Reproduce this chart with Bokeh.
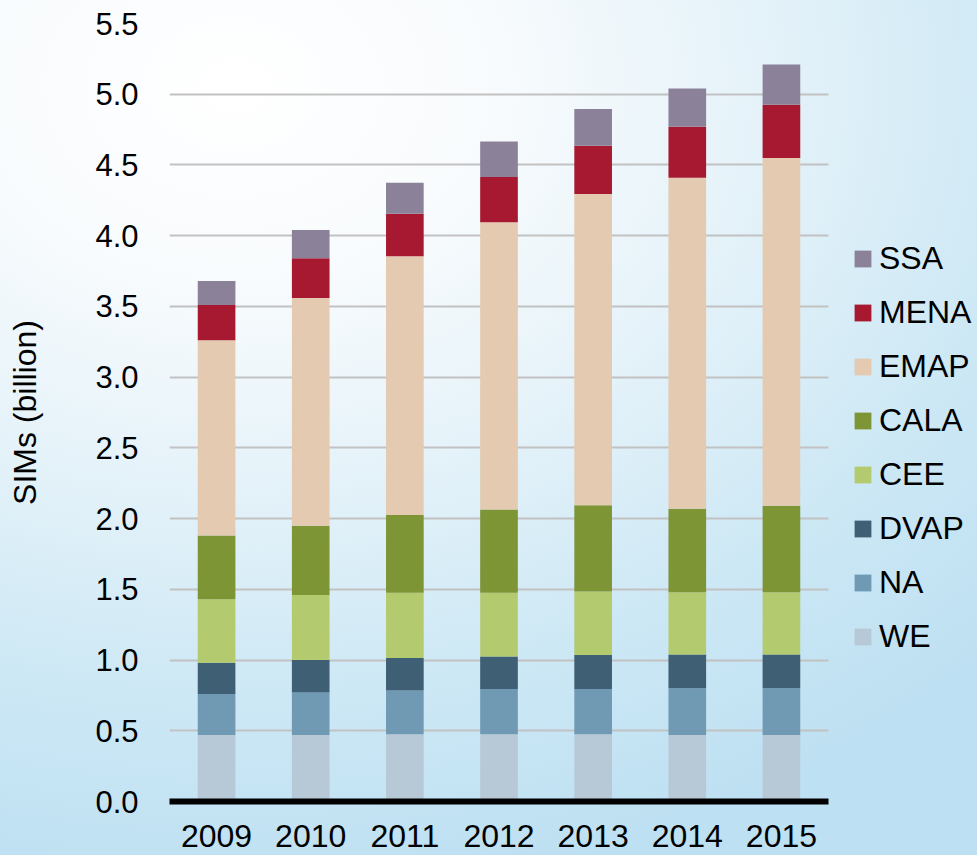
from bokeh.plotting import figure
from bokeh.models import (Range1d, FixedTicker, PrintfTickFormatter, Legend, Grid,
                          LegendItem, ColumnDataSource, GlobalInlineStyleSheet)
from bokeh.embed import file_html
from bokeh.resources import INLINE

# ---- data (billion SIMs) ----
years = ["2009", "2010", "2011", "2012", "2013", "2014", "2015"]
WE = [0.47, 0.47, 0.475, 0.475, 0.475, 0.47, 0.47]
NA = [0.29, 0.30, 0.31, 0.32, 0.32, 0.33, 0.33]
DVAP = [0.22, 0.23, 0.23, 0.23, 0.24, 0.24, 0.24]
CEE = [0.45, 0.46, 0.46, 0.45, 0.45, 0.44, 0.44]
CALA = [0.45, 0.49, 0.55, 0.59, 0.61, 0.59, 0.61]
EMAP = [1.38, 1.61, 1.83, 2.03, 2.20, 2.34, 2.46]
MENA = [0.25, 0.28, 0.30, 0.32, 0.34, 0.36, 0.375]
SSA = [0.17, 0.20, 0.22, 0.25, 0.26, 0.27, 0.285]

regions = ["WE", "NA", "DVAP", "CEE", "CALA", "EMAP", "MENA", "SSA"]
colors = ["#B7C9D6", "#7099B3", "#3E5F74", "#B3CA6E", "#7D9535", "#E3CAB1", "#A71930", "#8B8198"]
y_ticks = [0.0, 0.5, 1.0, 1.5, 2.0, 2.5, 3.0, 3.5, 4.0, 4.5, 5.0, 5.5]
y_title = "SIMs (billion)"

FONT = "Liberation Sans"

idx = list(range(len(years)))
source = ColumnDataSource(dict(x=idx, year=years, WE=WE, NA=NA, DVAP=DVAP, CEE=CEE,
                               CALA=CALA, EMAP=EMAP, MENA=MENA, SSA=SSA))

# category slot = 94.14px; bars region 169..828, frame continues to the right edge for the legend
cat_lo, cat_hi = -0.5, len(years) - 0.5
x_end = cat_lo + (977 - 169) / ((828 - 169) / len(years))

p = figure(x_range=Range1d(cat_lo, x_end),
           y_range=Range1d(0, 5.5),
           width=977, height=867,
           output_backend="svg", toolbar_location=None,
           min_border_left=169, min_border_right=0,
           min_border_top=23, min_border_bottom=66)

p.background_fill_alpha = 0
p.border_fill_alpha = 0
p.outline_line_color = None
p.stylesheets = [GlobalInlineStyleSheet(css="""
html, body { overflow: hidden !important; background: radial-gradient(ellipse 110% 95% at 24% 10%, #ffffff 0%, #f8fbfd 24%, #e4f2f9 50%, #cde8f5 75%, #bde0f2 100%) !important; }
""")]

renderers = p.vbar_stack(regions, x="x", width=0.4, source=source,
                         fill_color=colors, line_color=None)

# grid
p.xgrid.grid_line_color = None
p.ygrid.grid_line_color = "#C2C2C2"
p.ygrid.grid_line_width = 2
p.ygrid.ticker = FixedTicker(ticks=y_ticks)
if "cross_bounds" in Grid.properties():
    p.ygrid.cross_bounds = (cat_lo, cat_hi)

# y axis
p.yaxis.ticker = FixedTicker(ticks=y_ticks)
p.yaxis.formatter = PrintfTickFormatter(format="%.1f")
p.yaxis.axis_line_color = None
p.yaxis.major_tick_line_color = None
p.yaxis.minor_tick_line_color = None
p.yaxis.major_tick_out = 0
p.yaxis.major_tick_in = 0
p.yaxis.major_label_standoff = 31
p.yaxis.major_label_text_font = FONT
p.yaxis.major_label_text_font_size = "31px"
p.yaxis.major_label_text_color = "#000000"
p.yaxis.axis_label = y_title
p.yaxis.axis_label_standoff = 49
p.yaxis.axis_label_text_font = FONT
p.yaxis.axis_label_text_font_size = "32px"
p.yaxis.axis_label_text_font_style = "normal"
p.yaxis.axis_label_text_color = "#000000"

# x axis: thick black baseline under the bars only
p.xaxis.ticker = FixedTicker(ticks=idx)
p.xaxis.major_label_overrides = {i: y for i, y in zip(idx, years)}
p.xaxis.bounds = (cat_lo, cat_hi)
p.xaxis.axis_line_color = "#000000"
p.xaxis.axis_line_width = 6
p.xaxis.major_tick_line_color = None
p.xaxis.minor_tick_line_color = None
p.xaxis.major_tick_out = 0
p.xaxis.major_tick_in = 0
p.xaxis.major_label_standoff = 23
p.xaxis.major_label_text_font = FONT
p.xaxis.major_label_text_font_size = "32px"
p.xaxis.major_label_text_color = "#000000"

items = [LegendItem(label=name, renderers=[r]) for name, r in zip(regions, renderers)][::-1]
legend = Legend(items=items, location=(683, 145), orientation="vertical",
                glyph_width=21, glyph_height=21, label_standoff=6,
                label_height=40, spacing=14, padding=0, margin=0,
                label_text_font=FONT, label_text_font_size="32px", label_text_color="#000000",
                background_fill_alpha=0, border_line_color=None)
p.add_layout(legend)

open("out.html", "w").write(file_html(p, INLINE))
